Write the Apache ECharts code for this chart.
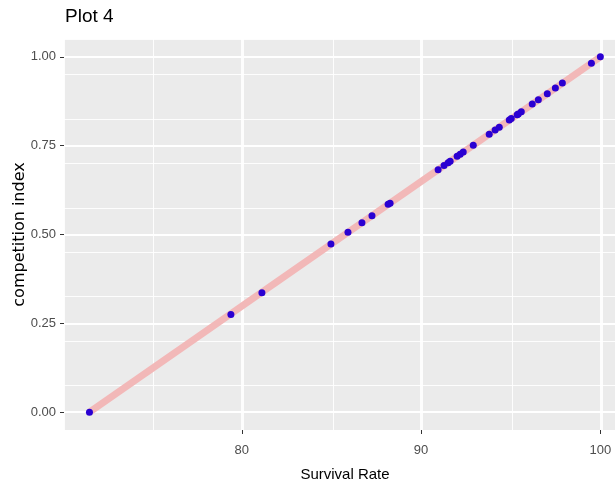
<!DOCTYPE html>
<html>
<head>
<meta charset="utf-8">
<title>Plot 4</title>
<script src="https://cdn.jsdelivr.net/npm/echarts@6/dist/echarts.min.js"></script>
<style>
  html, body { margin: 0; padding: 0; background: #ffffff; }
  #chart { width: 615px; height: 487px; }
</style>
</head>
<body>
<div id="chart"></div>
<script>
// Survival rate (%) per group and the matching competition index
const survivalRate = [
  71.5, 79.39, 81.12, 84.97, 85.92, 86.70, 87.26, 88.16, 88.27,
  90.95, 91.28, 91.51, 91.62, 92.01, 92.18, 92.35, 92.91,
  93.80, 94.13, 94.36, 94.92, 95.03, 95.36, 95.42, 95.59,
  96.20, 96.54, 97.04, 97.49, 97.88, 99.50, 100.0
];
const competitionIndex = [
  0.000, 0.275, 0.336, 0.473, 0.506, 0.533, 0.553, 0.585, 0.588,
  0.682, 0.694, 0.702, 0.706, 0.720, 0.726, 0.732, 0.751,
  0.782, 0.794, 0.802, 0.822, 0.826, 0.837, 0.839, 0.845,
  0.867, 0.879, 0.896, 0.912, 0.926, 0.982, 1.000
];
// Endpoints of the fitted linear trend
const fitX = [71.5, 100.0];
const fitY = [0.000, 1.000];
// Tick labels
const xTicks = [80, 90, 100];
const yTicks = [0, 0.25, 0.5, 0.75, 1.0];

const points = survivalRate.map((x, i) => [x, competitionIndex[i]]);
const fitLine = fitX.map((x, i) => [x, fitY[i]]);

const sans = '"Liberation Sans", Arial, sans-serif';
const wide = '"DejaVu Sans", "Liberation Sans", sans-serif';
const xMin = 70.08, xMax = 101.43;
const yMin = -0.05, yMax = 1.05;

const chart = echarts.init(document.getElementById('chart'), null, { renderer: 'canvas' });

chart.setOption({
  animation: false,
  backgroundColor: '#ffffff',
  title: {
    text: 'Plot 4',
    left: 65,
    top: 7,
    padding: 0,
    textStyle: { fontFamily: sans, fontSize: 19, fontWeight: 'normal', color: '#000000' }
  },
  grid: {
    left: 64,
    right: -11,
    top: 39,
    bottom: 57,
    outerBoundsMode: 'none',
    containLabel: false,
    show: true,
    backgroundColor: '#EBEBEB',
    borderWidth: 0
  },
  xAxis: [
    {
      type: 'value',
      min: xMin,
      max: xMax,
      interval: 10,
      name: 'Survival Rate',
      nameLocation: 'middle',
      nameGap: 37,
      nameMoveOverlap: false,
      nameTextStyle: { fontFamily: sans, fontSize: 15, color: '#000000' },
      axisLine: { show: false, onZero: false },
      axisTick: {
        show: true, length: 4, customValues: xTicks,
        lineStyle: { color: '#333333', width: 1 }
      },
      axisLabel: {
        customValues: xTicks,
        margin: 14,
        fontFamily: sans, fontSize: 13, color: '#4D4D4D'
      },
      splitLine: { show: true, lineStyle: { color: '#ffffff', width: 1.8 } },
      z: 1
    },
    {
      type: 'value',
      min: xMin,
      max: xMax,
      interval: 5,
      axisLine: { show: false, onZero: false },
      axisTick: { show: false },
      axisLabel: { show: false },
      splitLine: { show: true, lineStyle: { color: '#ffffff', width: 0.9 } }
    }
  ],
  yAxis: [
    {
      type: 'value',
      min: yMin,
      max: yMax,
      interval: 0.25,
      name: 'competition index',
      nameLocation: 'middle',
      nameGap: 36,
      nameMoveOverlap: false,
      nameTextStyle: { fontFamily: wide, fontSize: 16, color: '#000000' },
      axisLine: { show: false, onZero: false },
      axisTick: {
        show: true, length: 4, customValues: yTicks,
        lineStyle: { color: '#333333', width: 1 }
      },
      axisLabel: {
        customValues: yTicks,
        margin: 8,
        fontFamily: sans, fontSize: 13, color: '#4D4D4D',
        formatter: v => v.toFixed(2)
      },
      splitLine: { show: true, lineStyle: { color: '#ffffff', width: 1.8 } }
    },
    {
      type: 'value',
      min: yMin,
      max: yMax,
      interval: 0.125,
      axisLine: { show: false, onZero: false },
      axisTick: { show: false },
      axisLabel: { show: false },
      splitLine: { show: true, lineStyle: { color: '#ffffff', width: 0.9 } }
    }
  ],
  series: [
    {
      type: 'line',
      data: fitLine,
      xAxisIndex: 0,
      yAxisIndex: 0,
      showSymbol: false,
      symbol: 'none',
      lineStyle: { color: '#F2B8B8', width: 7, cap: 'butt' },
      silent: true,
      z: 2
    },
    {
      type: 'scatter',
      data: points,
      xAxisIndex: 0,
      yAxisIndex: 0,
      symbol: 'circle',
      symbolSize: 7,
      itemStyle: { color: '#2A00D2', opacity: 1 },
      z: 3
    }
  ]
});
</script>
</body>
</html>
